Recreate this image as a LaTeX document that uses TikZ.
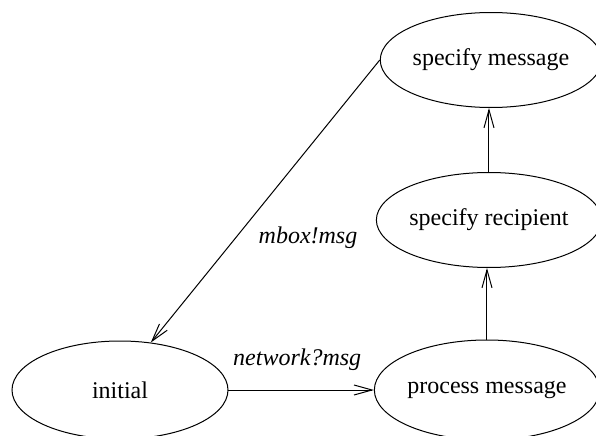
\documentclass[tikz,border=0pt]{standalone}
\usepackage{fontspec}
\setmainfont{Liberation Serif}
\usetikzlibrary{arrows.meta,shapes,positioning}

\tikzset{ell/.style={draw, ellipse, inner sep=0pt, minimum width=104pt, minimum height=47.5pt, font=\fontsize{12}{14}\selectfont}}
\tikzset{lbl/.style={font=\fontsize{12}{14}\selectfont\itshape}}

\begin{document}
\begin{tikzpicture}[>={Straight Barb[length=9pt,width=5pt]}, line width=0.5pt]
    \useasboundingbox (-60pt,195pt) rectangle (238pt,-22.5pt);
    \node [ell, minimum width=108pt, minimum height=49pt](ini){initial};
    \node at (ini) [ell, xshift=183.5pt, minimum width=108pt, minimum height=50pt](pro){process message};
    \node at (pro) [ell, xshift=1pt, yshift=85pt](rec){specify recipient};
    \node at (rec) [ell, xshift=1pt, yshift=80pt](spe){specify message};

    %% Arrows
    \draw [->] (ini) -- (pro) node[midway, above=6pt, xshift=-2pt, lbl]{network?msg};
    \draw [->] (pro.north) -- (pro.north |- rec.south);
    \draw [->] (rec.north) -- (rec.north |- spe.south);
    \draw [->] (spe.west) -- (ini.57) node[pos=0.63, right=8pt, lbl]{mbox!msg};
\end{tikzpicture}
\end{document}
